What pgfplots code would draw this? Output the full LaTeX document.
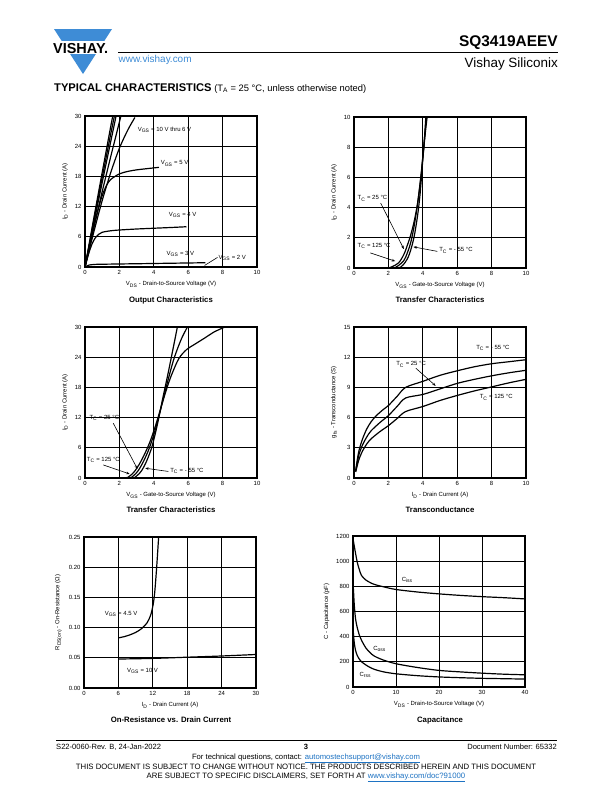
\documentclass[border=0pt]{standalone}
\usepackage{fontspec}
\setmainfont{Liberation Sans}
\usepackage{pgfplots}
\pgfplotsset{compat=1.18}
\usetikzlibrary{arrows.meta}
\definecolor{vblue}{RGB}{62,140,214}
\definecolor{linkblue}{RGB}{30,115,195}
\newcommand{\sz}[1]{\fontsize{#1}{#1}\selectfont}
\pgfplotsset{
  dsaxis/.style={
    scale only axis, width=172bp, height=151bp, anchor=south west,
    grid=major, major grid style={black, line width=0.95pt},
    axis line style={line width=1.15pt},
    major tick length=0pt,
    tick label style={font=\sz{6}},
    label style={font=\sz{6}},
    /pgf/number format/assume math mode=true,
    /pgf/number format/1000 sep={},
    scaled ticks=false,
    cycle list={{black, mark=none}},
    every axis plot/.append style={black, line width=1.2pt, mark=none},
  },
}
\tikzset{
  ann/.style={font=\sz{6}, anchor=west, inner sep=0pt},
  arr/.style={-{Stealth[length=3.5pt,width=2.6pt]}, line width=0.6pt},
}
\begin{document}
\begin{tikzpicture}
\fill[white] (0,0) rectangle (612bp,-792bp);
\path[use as bounding box] (0,0) rectangle (612bp,-792bp);
% ---------- header ----------
\fill[vblue] (54bp,-29bp) -- (112bp,-29bp) -- (83bp,-74bp) -- cycle;
\fill[white] (50bp,-41bp) rectangle (116bp,-53.6bp);
\node[anchor=base west, inner sep=0pt, font=\bfseries\sz{14.5}] at (53bp,-53bp) {VISHAY.};
\draw[line width=0.8pt] (118bp,-52.5bp) -- (558bp,-52.5bp);
\node[anchor=base west, inner sep=0pt, text=vblue, font=\sz{10}] at (118.5bp,-62bp) {www.vishay.com};
\node[anchor=base east, inner sep=0pt, font=\bfseries\sz{15.5}] at (558bp,-46.5bp) {SQ3419AEEV};
\node[anchor=base east, inner sep=0pt, font=\sz{13.5}] at (558bp,-67bp) {Vishay Siliconix};
\node[anchor=base west, inner sep=0pt, font=\sz{9.4}] at (54bp,-91.5bp) {{\bfseries\sz{11.2}TYPICAL CHARACTERISTICS} (T\textsubscript{A} = 25 °C, unless otherwise noted)};
% ---------- footer ----------
\draw[line width=0.8pt] (56bp,-740bp) -- (557bp,-740bp);
\node[anchor=base west, inner sep=0pt, font=\sz{7.6}] at (56bp,-749bp) {S22-0060-Rev. B, 24-Jan-2022};
\node[anchor=base, inner sep=0pt, font=\bfseries\sz{7.6}] at (306bp,-749bp) {3};
\node[anchor=base east, inner sep=0pt, font=\sz{7.6}] at (557bp,-749bp) {Document Number: 65332};
\node[anchor=base, inner sep=0pt, font=\sz{7.7}] at (306bp,-759bp) {For technical questions, contact: \textcolor{linkblue}{\underline{automostechsupport@vishay.com}}};
\node[anchor=base, inner sep=0pt, font=\sz{7.8}] at (306bp,-769bp) {THIS DOCUMENT IS SUBJECT TO CHANGE WITHOUT NOTICE. THE PRODUCTS DESCRIBED HEREIN AND THIS DOCUMENT};
\node[anchor=base, inner sep=0pt, font=\sz{7.8}] at (306bp,-778bp) {ARE SUBJECT TO SPECIFIC DISCLAIMERS, SET FORTH AT \textcolor{linkblue}{\underline{www.vishay.com/doc?91000}}};
% ---------- titles ----------
\node[font=\bfseries\sz{7.8}] at (171bp,-300bp) {Output Characteristics};
\node[font=\bfseries\sz{7.8}] at (440bp,-300bp) {Transfer Characteristics};
\node[font=\bfseries\sz{7.8}] at (171bp,-510bp) {Transfer Characteristics};
\node[font=\bfseries\sz{7.8}] at (440bp,-510bp) {Transconductance};
\node[font=\bfseries\sz{7.8}] at (171bp,-720bp) {On-Resistance vs. Drain Current};
\node[font=\bfseries\sz{7.8}] at (440bp,-720bp) {Capacitance};

% ---------- chart 1: output characteristics ----------
\begin{axis}[dsaxis, at={(85bp,-267bp)}, xmin=0, xmax=10, ymin=0, ymax=30,
  xtick={0,2,...,10}, ytick={0,6,...,30},
  xlabel={V\textsubscript{DS} - Drain-to-Source Voltage (V)},
  ylabel={I\textsubscript{D} - Drain Current (A)}]
\addplot[] coordinates {(0,0)(0.5,9.5)(1,18.8)(1.5,28)(1.7,31.5)};
\addplot[] coordinates {(0,0)(0.5,9.0)(1,17.8)(1.5,26.5)(1.8,31.5)};
\addplot[] coordinates {(0,0)(0.5,8.5)(1,16.8)(1.5,25)(1.9,31.5)};
\addplot[] coordinates {(0,0)(0.5,7.6)(1,15)(1.5,22)(2,28.8)(2.2,31.5)};
\addplot[smooth] coordinates {(0,0)(0.5,6.8)(1,13.2)(1.5,18.8)(2,23.6)(2.5,27.3)(2.9,29.7)};
\addplot[smooth] coordinates {(0,0)(0.25,4)(0.5,7.8)(0.75,11.3)(1,14.2)(1.25,16.2)(1.5,17.4)(2,18.5)(2.5,19)(3,19.3)(3.5,19.5)(4.3,19.8)};
\addplot[smooth] coordinates {(0,0)(0.2,2.5)(0.4,4.5)(0.6,5.8)(0.8,6.5)(1,6.9)(1.5,7.2)(2,7.35)(3,7.55)(4,7.7)(5,7.85)(5.9,8.0)};
\addplot[smooth] coordinates {(0,0)(0.2,0.35)(0.5,0.5)(1,0.55)(3,0.65)(5,0.75)(7,0.85)};
\addplot[] coordinates {(0,0.02)(7,0.08)};
\node[ann] at (axis cs:3.06,27.2) {V\textsubscript{GS} = 10 V thru 6 V};
\node[ann] at (axis cs:4.4,20.6) {V\textsubscript{GS} = 5 V};
\node[ann] at (axis cs:4.87,10.3) {V\textsubscript{GS} = 4 V};
\node[ann] at (axis cs:4.74,2.6) {V\textsubscript{GS} = 3 V};
\node[ann] at (axis cs:7.75,1.85) {V\textsubscript{GS} = 2 V};
\draw[line width=0.6pt] (axis cs:6.95,0.3) -- (axis cs:7.7,1.9);
\end{axis}

% ---------- chart 2: transfer 0-10 ----------
\begin{axis}[dsaxis, at={(354bp,-268bp)}, xmin=0, xmax=10, ymin=0, ymax=10,
  xtick={0,2,...,10}, ytick={0,2,...,10},
  xlabel={V\textsubscript{GS} - Gate-to-Source Voltage (V)},
  ylabel={I\textsubscript{D} - Drain Current (A)}]
\addplot[smooth] coordinates {(0,0)(1.8,0)(2.2,0.08)(2.6,0.35)(2.9,0.9)(3.1,1.5)(3.3,2.2)(3.5,3.1)(3.7,4.3)(3.9,6.1)(4.05,7.9)(4.2,9.5)(4.3,10.4)};
\addplot[smooth] coordinates {(0,0)(2.1,0)(2.5,0.1)(2.9,0.5)(3.1,1.0)(3.3,1.7)(3.5,2.8)(3.7,4.3)(3.9,6.2)(4.05,8)(4.2,9.9)(4.25,10.5)};
\addplot[smooth] coordinates {(0,0)(2.4,0)(2.8,0.15)(3.1,0.6)(3.3,1.2)(3.5,2.1)(3.7,3.5)(3.85,5)(4.0,7.2)(4.07,8.1)(4.17,9.9)(4.2,10.5)};
\node[ann] at (axis cs:0.2,4.6) {T\textsubscript{C} = 25 °C};
\node[ann] at (axis cs:0.2,1.45) {T\textsubscript{C} = 125 °C};
\node[ann] at (axis cs:4.95,1.15) {T\textsubscript{C} = - 55 °C};
\draw[arr] (axis cs:1.55,4.3) -- (axis cs:2.9,1.25);
\draw[arr] (axis cs:0.95,1.0) -- (axis cs:2.4,0.45);
\draw[arr] (axis cs:4.85,1.1) -- (axis cs:3.45,1.4);
\end{axis}

% ---------- chart 3: transfer 0-30 ----------
\begin{axis}[dsaxis, at={(85bp,-478bp)}, xmin=0, xmax=10, ymin=0, ymax=30,
  xtick={0,2,...,10}, ytick={0,6,...,30},
  xlabel={V\textsubscript{GS} - Gate-to-Source Voltage (V)},
  ylabel={I\textsubscript{D} - Drain Current (A)}]
\addplot[smooth] coordinates {(0,0)(2.6,0)(3.0,0.4)(3.3,1.5)(3.6,3.5)(3.9,6.3)(4.2,10.5)(4.5,15.5)(4.8,20.3)(5.05,24.5)(5.4,30.5)};
\addplot[smooth] coordinates {(0,0)(2.4,0)(2.8,0.4)(3.1,1.5)(3.4,3.3)(3.7,5.6)(4.0,8.6)(4.3,12.3)(4.6,16.4)(4.9,20.4)(5.2,24)(5.6,27.6)(6.0,30.3)};
\addplot[smooth] coordinates {(0,0)(2.2,0)(2.6,0.4)(2.9,1.4)(3.2,3.0)(3.5,5.0)(3.8,7.4)(4.1,10.4)(4.4,13.8)(4.7,17.2)(5.0,20.2)(5.45,23.7)(5.9,25.5)(6.3,26.4)(7.0,27.9)(7.5,29.0)(8.0,29.8)(8.2,30.1)};
\node[ann] at (axis cs:0.25,11.9) {T\textsubscript{C} = 25 °C};
\node[ann] at (axis cs:0.1,3.6) {T\textsubscript{C} = 125 °C};
\node[ann] at (axis cs:4.95,1.4) {T\textsubscript{C} = - 55 °C};
\draw[arr] (axis cs:1.64,10.9) -- (axis cs:3.05,1.8);
\draw[arr] (axis cs:1.06,2.6) -- (axis cs:2.6,0.8);
\draw[arr] (axis cs:4.85,1.3) -- (axis cs:3.5,1.95);
\end{axis}

% ---------- chart 4: transconductance ----------
\begin{axis}[dsaxis, at={(354bp,-478bp)}, xmin=0, xmax=10, ymin=0, ymax=15,
  xtick={0,2,...,10}, ytick={0,3,...,15},
  xlabel={I\textsubscript{D} - Drain Current (A)},
  ylabel={g\textsubscript{fs} - Transconductance (S)}]
\addplot[smooth] coordinates {(0.1,0.8)(0.2,1.9)(0.3,2.8)(0.5,3.9)(0.75,4.9)(1,5.6)(1.3,6.2)(1.7,6.8)(2,7.2)(2.5,8.1)(3,9.0)(4,9.6)(5,10.2)(6,10.65)(7,11.05)(8,11.35)(9,11.55)(10,11.75)};
\addplot[smooth] coordinates {(0.1,0.7)(0.2,1.6)(0.3,2.4)(0.5,3.3)(0.75,4.1)(1,4.7)(1.5,5.5)(2,6.2)(2.5,7.1)(3,7.95)(4,8.3)(5,8.85)(6,9.4)(7,9.8)(8,10.15)(9,10.45)(10,10.7)};
\addplot[smooth] coordinates {(0.1,0.6)(0.2,1.3)(0.3,1.9)(0.5,2.7)(0.75,3.4)(1,3.9)(1.5,4.6)(2,5.2)(2.5,5.9)(3,6.6)(4,7.1)(5,7.7)(6,8.2)(7,8.65)(8,9.05)(9,9.45)(10,9.8)};
\node[ann] at (axis cs:7.1,12.9) {T\textsubscript{C} = - 55 °C};
\node[ann] at (axis cs:2.45,11.3) {T\textsubscript{C} = 25 °C};
\node[ann] at (axis cs:7.3,8.0) {T\textsubscript{C} = 125 °C};
\draw[arr] (axis cs:3.6,10.9) -- (axis cs:4.75,9.15);
\end{axis}

% ---------- chart 5: on-resistance ----------
\begin{axis}[dsaxis, at={(84bp,-688bp)}, xmin=0, xmax=30, ymin=0, ymax=0.25,
  xtick={0,6,...,30}, ytick={0,0.05,...,0.25},
  yticklabel style={/pgf/number format/.cd, fixed, fixed zerofill, precision=2},
  xlabel={I\textsubscript{D} - Drain Current (A)},
  ylabel={R\textsubscript{DS(on)} - On-Resistance (Ω)}]
\addplot[smooth] coordinates {(6,0.083)(7,0.085)(8,0.088)(9,0.092)(10,0.098)(11,0.108)(11.6,0.12)(12,0.135)(12.3,0.155)(12.6,0.19)(12.85,0.225)(13.05,0.255)};
\addplot[smooth] coordinates {(6,0.048)(12,0.049)(18,0.051)(24,0.053)(30,0.0555)};
\node[ann] at (axis cs:3.6,0.123) {V\textsubscript{GS} = 4.5 V};
\node[ann] at (axis cs:7.5,0.028) {V\textsubscript{GS} = 10 V};
\end{axis}

% ---------- chart 6: capacitance ----------
\begin{axis}[dsaxis, at={(353bp,-687bp)}, xmin=0, xmax=40, ymin=0, ymax=1200,
  xtick={0,10,...,40}, ytick={0,200,...,1200},
  xlabel={V\textsubscript{DS} - Drain-to-Source Voltage (V)},
  ylabel={C - Capacitance (pF)}]
\addplot[smooth] coordinates {(0.1,1160)(0.5,1080)(1,990)(1.5,930)(2,885)(3,850)(4,830)(5,815)(7,797)(10,775)(15,755)(20,740)(25,728)(30,718)(35,710)(40,700)};
\addplot[smooth] coordinates {(0.1,780)(0.3,650)(0.6,540)(1,470)(1.5,410)(2,370)(3,310)(4,272)(5,245)(7,215)(10,185)(15,155)(20,132)(25,120)(30,110)(35,102)(40,97)};
\addplot[smooth] coordinates {(0.1,430)(0.3,350)(0.6,290)(1,250)(1.5,220)(2,200)(3,175)(4,155)(5,140)(7,121)(10,105)(15,90)(20,80)(25,74)(30,69)(35,66)(40,63)};
\node[ann] at (axis cs:11.3,850) {C\textsubscript{iss}};
\node[ann] at (axis cs:4.7,306) {C\textsubscript{oss}};
\node[ann] at (axis cs:1.5,97) {C\textsubscript{rss}};
\end{axis}
\end{tikzpicture}
\end{document}
